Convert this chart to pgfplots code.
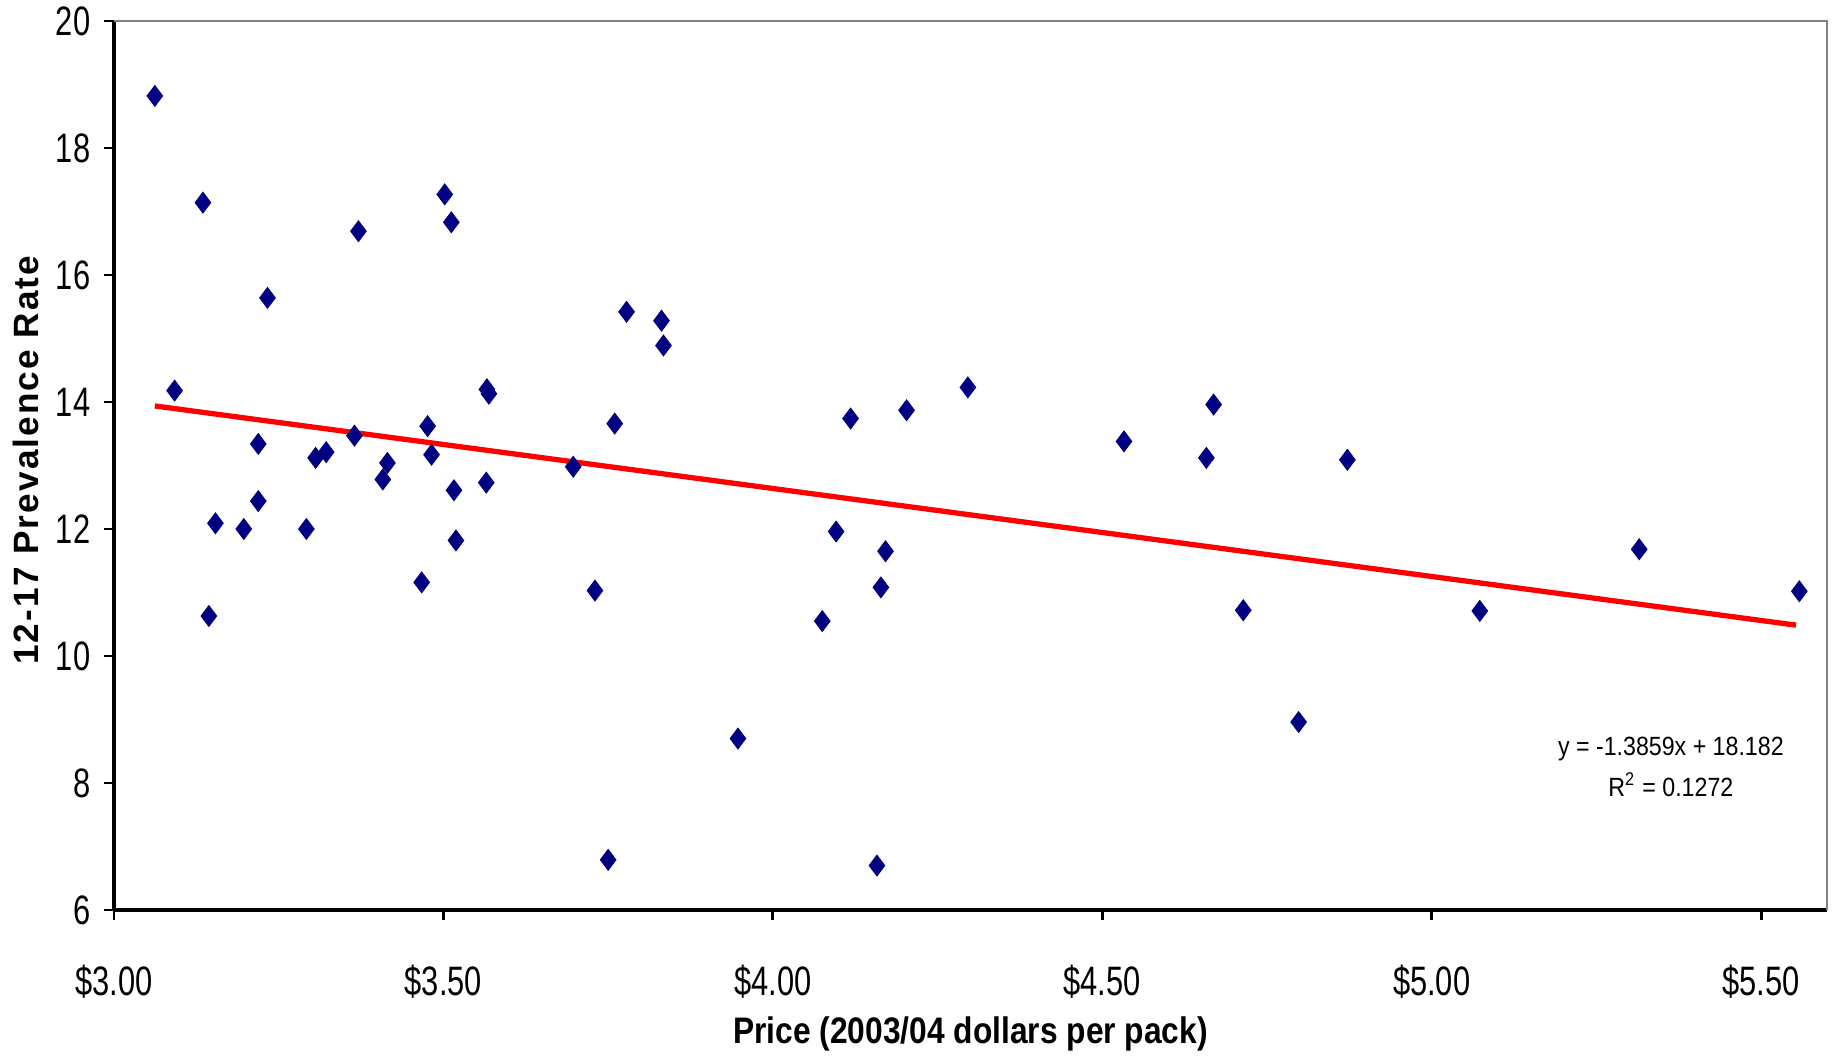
\documentclass[border=0pt]{standalone}
\usepackage{fontspec}
\setmainfont{Liberation Sans}
\newfontfamily\narrowfont[FakeStretch=0.75]{Liberation Sans}
\newfontfamily\xlabfont[FakeStretch=0.86]{Liberation Sans}
\newfontfamily\ylabfont[LetterSpace=6]{Liberation Sans}
\newfontfamily\eqfont[FakeStretch=0.88]{Liberation Sans}
\usepackage{pgfplots}
\pgfplotsset{compat=1.18}
\definecolor{navy}{HTML}{000080}
\definecolor{boxgray}{HTML}{808080}

\begin{document}
\begin{tikzpicture}
\path[use as bounding box] (-11.4mm,-14.6mm) rectangle (172.3mm,91.0mm);
\begin{axis}[
    at={(0,0)}, anchor=south west,
    scale only axis, width=171.3mm, height=88.9mm,
    xmin=3, xmax=5.6, ymin=6, ymax=20,
    axis lines=left,
    axis line style={-, black, line width=0.9pt},
    xtick={3,3.5,4,4.5,5,5.5},
    xticklabels={\$3.00,\$3.50,\$4.00,\$4.50,\$5.00,\$5.50},
    ytick={6,8,10,12,14,16,18,20},
    yticklabels={6,8,10,12,14,16,18,20},
    tick align=outside, major tick length=1mm,
    tick style={black, line width=0.8pt},
    xticklabel style={font=\narrowfont\fontsize{11.7}{13}\selectfont, anchor=center, yshift=-6.2mm},
    yticklabel style={font=\narrowfont\fontsize{11.7}{13}\selectfont, anchor=east, inner sep=0pt, xshift=-1.3mm},
    xlabel={Price (2003/04 dollars per pack)},
    xlabel style={at={(rel axis cs:0.5,-0.1395)}, anchor=center, font=\xlabfont\bfseries\fontsize{10.5}{12}\selectfont},
    ylabel={12-17 Prevalence Rate},
    ylabel style={at={(rel axis cs:-0.0514,0.506)}, anchor=center, font=\ylabfont\bfseries\fontsize{10}{11}\selectfont},
    clip=false,
]
\draw[boxgray, line width=0.6pt] (rel axis cs:0,1) -- (rel axis cs:1,1) -- (rel axis cs:1,0);
\addplot[only marks, mark=diamond*, mark size=1.0mm, navy, mark options={fill=navy, draw=navy}] coordinates {
    (3.062,18.82) (3.092,14.18) (3.135,17.14) (3.144,10.63) (3.154,12.09)
    (3.197,12.00) (3.219,12.44) (3.219,13.34) (3.233,15.64) (3.292,12.00)
    (3.306,13.12) (3.322,13.21) (3.365,13.47) (3.371,16.69) (3.408,12.78)
    (3.415,13.04) (3.467,11.16) (3.476,13.62) (3.482,13.17) (3.502,17.27)
    (3.512,16.83) (3.516,12.61) (3.519,11.82) (3.565,12.73) (3.566,14.20)
    (3.569,14.13) (3.697,12.98) (3.730,11.03) (3.750,6.79) (3.760,13.66)
    (3.778,15.42) (3.831,15.28) (3.834,14.89) (3.947,8.70) (4.075,10.55)
    (4.096,11.96) (4.118,13.74) (4.158,6.70) (4.164,11.08) (4.171,11.65)
    (4.203,13.87) (4.296,14.23) (4.533,13.38) (4.658,13.12) (4.669,13.96)
    (4.714,10.72) (4.798,8.96) (4.872,13.09) (5.073,10.71) (5.315,11.68)
    (5.558,11.02)
};
% linear trend line
\addplot[red, line width=1.5pt] coordinates {(3.062,13.938) (5.553,10.486)};
\node[align=center, font=\eqfont\fontsize{7.5}{11.6}\selectfont] at (axis cs:5.363,8.25)
    {y = -1.3859x + 18.182\\R\textsuperscript{2} = 0.1272};
\end{axis}
\end{tikzpicture}
\end{document}
